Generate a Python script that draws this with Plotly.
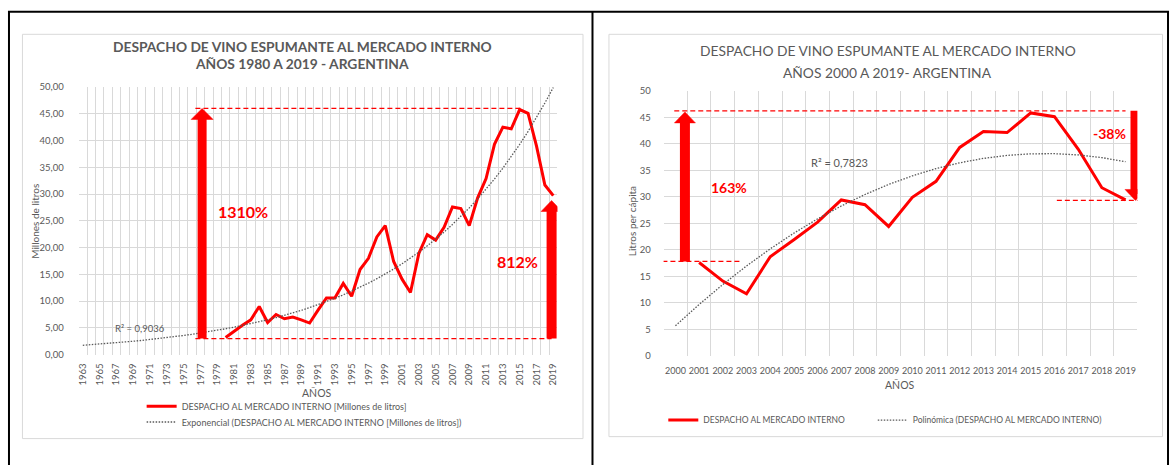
import numpy as np
import plotly.graph_objects as go

# ---------------- data ----------------
left_years = list(range(1980, 2020))
left_values = [3.2, 4.4, 5.5, 6.5, 9.0, 6.0, 7.5, 6.7, 7.0, 6.5,
               5.9, 8.3, 10.6, 10.6, 13.3, 10.9, 15.9, 18.0, 22.0, 24.1,
               17.4, 14.1, 11.6, 18.9, 22.4, 21.4, 23.8, 27.6, 27.3, 24.1,
               29.3, 32.9, 39.3, 42.5, 42.2, 45.8, 45.1, 39.0, 31.7, 29.7]
left_axis_years = list(range(1963, 2020))
left_tick_years = list(range(1963, 2020, 2))

right_years = list(range(2000, 2020))
right_values = [None, 17.6, 14.1, 11.7, 18.7, 21.9, 25.2, 29.4, 28.5, 24.4,
                29.9, 32.9, 39.3, 42.3, 42.1, 45.8, 45.1, 39.0, 31.7, 29.4]

left_title = ["DESPACHO DE VINO ESPUMANTE AL MERCADO INTERNO", "AÑOS 1980 A 2019 - ARGENTINA"]
right_title = ["DESPACHO DE VINO ESPUMANTE AL MERCADO INTERNO", "AÑOS 2000 A 2019- ARGENTINA"]
left_pct = ["1310%", "812%"]
right_pct = ["163%", "-38%"]
left_r2 = "R² = 0,9036"
right_r2 = "R² = 0,7823"

# ---------------- trendlines (regressions of the data) ----------------
ly = np.array(left_years, dtype=float)
lv = np.array(left_values, dtype=float)
b, ln_a = np.polyfit(ly - 1962, np.log(lv), 1)
left_trend = np.exp(ln_a + b * (np.array(left_axis_years) - 1962))

ry = np.array([y for y, v in zip(right_years, right_values) if v is not None], dtype=float)
rv = np.array([v for v in right_values if v is not None], dtype=float)
pc = np.polyfit(ry - 1999, rv, 2)
right_trend = np.polyval(pc, np.array(right_years) - 1999)

# ---------------- layout helpers ----------------
W, H = 1173, 468
def px(x):
    return x / W
def py(y):
    return 1 - y / H

RED = "#FF0000"
GRAY = "#595959"
GRID = "#D9D9D9"
FONT = "Lato, 'Open Sans', sans-serif"
DOTS = "1.5px,1.5px"

fig = go.Figure()

# left chart
fig.add_trace(go.Scatter(x=left_years, y=left_values, mode="lines",
                         line=dict(color=RED, width=3),
                         name="DESPACHO AL MERCADO INTERNO [Millones de litros]",
                         xaxis="x", yaxis="y", legend="legend"))
fig.add_trace(go.Scatter(x=left_axis_years, y=left_trend, mode="lines",
                         line=dict(color=GRAY, width=1.3, dash=DOTS),
                         name="Exponencial (DESPACHO AL MERCADO INTERNO [Millones de litros])",
                         xaxis="x", yaxis="y", legend="legend2"))
# right chart
fig.add_trace(go.Scatter(x=right_years, y=right_values, mode="lines",
                         line=dict(color=RED, width=3),
                         name="DESPACHO AL MERCADO INTERNO",
                         xaxis="x2", yaxis="y2", legend="legend3"))
fig.add_trace(go.Scatter(x=right_years, y=right_trend, mode="lines",
                         line=dict(color=GRAY, width=1.3, dash=DOTS),
                         name="Polinómica (DESPACHO AL MERCADO INTERNO)",
                         xaxis="x2", yaxis="y2", legend="legend4"))

tickfont = dict(family=FONT, size=9.5, color=GRAY)
NOTICK = "rgba(0,0,0,0)"

fig.update_layout(
    width=W, height=H, margin=dict(l=0, r=0, t=0, b=0),
    paper_bgcolor="white", plot_bgcolor="white",
    separators=",.",
    font=dict(family=FONT, color=GRAY),
    xaxis=dict(domain=[px(76.8), px(556.9)], range=[1962.5, 2019.5],
               tickmode="array", tickvals=left_tick_years,
               ticktext=[str(v) for v in left_tick_years],
               tickangle=-90, tickfont=dict(family=FONT, size=9.5, color=GRAY),
               ticks="outside", ticklen=4, tickcolor=NOTICK,
               showgrid=False, zeroline=False, showline=False,
               minor=dict(tick0=1962.5, dtick=1, showgrid=True, gridcolor=GRID, gridwidth=1),
               anchor="y", fixedrange=True),
    yaxis=dict(domain=[py(357), py(83)], range=[0, 50], dtick=5, tickformat=".2f",
               gridcolor=GRID, gridwidth=1, zeroline=False, showline=False,
               ticks="outside", ticklen=12, tickcolor=NOTICK,
               tickfont=tickfont, anchor="x", fixedrange=True),
    xaxis2=dict(domain=[px(663.3), px(1138.3)], range=[1999.5, 2019.5],
                tickmode="array", tickvals=right_years, ticktext=[str(v) for v in right_years],
                tickangle=0, tickfont=dict(family=FONT, size=9, color=GRAY),
                ticks="outside", ticklen=6, tickcolor=NOTICK,
                showgrid=False, zeroline=False, showline=False,
                minor=dict(tick0=1999.5, dtick=1, showgrid=True, gridcolor=GRID, gridwidth=1),
                anchor="y2", fixedrange=True),
    yaxis2=dict(domain=[py(358.3), py(86.7)], range=[0, 50], dtick=5,
                gridcolor=GRID, gridwidth=1, zeroline=False, showline=False,
                ticks="outside", ticklen=10, tickcolor=NOTICK,
                tickfont=tickfont, anchor="x2", fixedrange=True),
    showlegend=True,
)

def legend_cfg(x, y, size):
    return dict(x=px(x), y=py(y), bgcolor="rgba(0,0,0,0)", borderwidth=0,
                font=dict(family=FONT, size=size, color=GRAY),
                itemwidth=30, xanchor="left", yanchor="middle", orientation="h")

fig.update_layout(
    legend=legend_cfg(140, 410, 9.0),
    legend2=legend_cfg(140, 426, 9.0),
    legend3=legend_cfg(663, 424, 8.5),
    legend4=legend_cfg(873, 424, 8.5),
)

shapes = []
# table borders
shapes.append(dict(type="line", xref="paper", yref="paper", x0=px(6), x1=px(1170), y0=py(6), y1=py(6),
                   line=dict(color="black", width=2)))
for xx in (7, 592, 1169):
    shapes.append(dict(type="line", xref="paper", yref="paper", x0=px(xx), x1=px(xx), y0=py(5), y1=py(470),
                       line=dict(color="black", width=2)))
# chart panels
shapes.append(dict(type="rect", xref="paper", yref="paper", x0=px(20.5), x1=px(582.5), y0=py(29), y1=py(443),
                   line=dict(color=GRID, width=1)))
shapes.append(dict(type="rect", xref="paper", yref="paper", x0=px(608.5), x1=px(1163.5), y0=py(29), y1=py(441),
                   line=dict(color=GRID, width=1)))

def arrow(xr, yr, xc, y_from, y_to, shaft_px, head_w, head_h, yscale):
    """Thick arrow: shaft line + pixel-sized triangle at the tip."""
    direction = 1 if y_to > y_from else -1
    end = y_to - direction * (head_h * 0.6) / yscale
    out = [dict(type="line", xref=xr, yref=yr, x0=xc, x1=xc, y0=y_from, y1=end,
                line=dict(color=RED, width=shaft_px), layer="above")]
    hw = head_w / 2
    hh = head_h * direction
    out.append(dict(type="path", xref=xr, yref=yr, xsizemode="pixel", ysizemode="pixel",
                    xanchor=xc, yanchor=y_to,
                    path=f"M {-hw},{-hh} L {hw},{-hh} L 0,0 Z",
                    fillcolor=RED, line=dict(color=RED, width=0.5), layer="above"))
    return out

DASH = "5px,3px"
lbase = 3.0
l_scale = 274 / 50.0
r_scale = 271.6 / 50.0
# left chart dashed guides
shapes.append(dict(type="line", xref="x", yref="y", x0=1976.4, x1=2015.2, y0=46.0, y1=46.0,
                   line=dict(color=RED, width=1.3, dash=DASH)))
shapes.append(dict(type="line", xref="x", yref="y", x0=1976.4, x1=2018.8, y0=lbase, y1=lbase,
                   line=dict(color=RED, width=1.3, dash=DASH)))
shapes += arrow("x", "y", 1977.2, lbase, 46.0, 9, 22, 11, l_scale)
shapes += arrow("x", "y", 2018.8, lbase, left_values[-1] - 0.9, 10, 21, 11, l_scale)

# right chart dashed guides
rmax = 46.2
r0 = 17.8
rend = 29.3
shapes.append(dict(type="line", xref="x2", yref="y2", x0=1999.95, x1=2019.0, y0=rmax, y1=rmax,
                   line=dict(color=RED, width=1.3, dash=DASH)))
shapes.append(dict(type="line", xref="x2", yref="y2", x0=1999.45, x1=2002.8, y0=r0, y1=r0,
                   line=dict(color=RED, width=1.3, dash=DASH)))
shapes.append(dict(type="line", xref="x2", yref="y2", x0=2016.1, x1=2019.55, y0=rend, y1=rend,
                   line=dict(color=RED, width=1.3, dash=DASH)))
shapes += arrow("x2", "y2", 2000.4, r0, 46.0, 10, 21, 11, r_scale)
shapes += arrow("x2", "y2", 2019.42, rmax, rend, 10, 21, 11, r_scale)

fig.update_layout(shapes=shapes)

ann = []
def text(x, y, s, size, color=GRAY, bold=False, angle=0, xanchor="center"):
    ann.append(dict(x=px(x), y=py(y), xref="paper", yref="paper", text=(f"<b>{s}</b>" if bold else s),
                    showarrow=False, xanchor=xanchor, yanchor="middle", textangle=angle,
                    font=dict(family=FONT, size=size, color=color)))

text(301, 41, left_title[0], 13.8, bold=True)
text(301, 59, left_title[1], 13.8, bold=True)
text(888, 46, right_title[0], 13.8)
text(888, 68, right_title[1], 13.8)
text(33, 220, "Millones de litros", 10, angle=-90)
text(631, 220, "Litros per cápita", 10, angle=-90)
text(316, 396, "AÑOS", 10.5)
text(900, 388, "AÑOS", 10.5)
text(138, 330, left_r2, 9.5)
text(840, 160, right_r2, 11)
text(242, 210, left_pct[0], 16, color=RED, bold=True)
text(517, 262, left_pct[1], 16, color=RED, bold=True)
text(729, 186, right_pct[0], 14, color=RED, bold=True)
text(1110, 131, right_pct[1], 14, color=RED, bold=True)
fig.update_layout(annotations=ann)

fig.write_html("out.html")
